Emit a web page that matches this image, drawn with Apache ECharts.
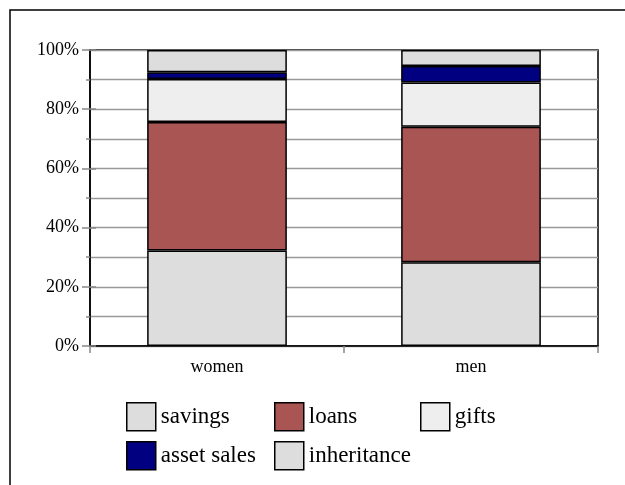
<!DOCTYPE html>
<html>
<head>
<meta charset="utf-8">
<script src="https://cdn.jsdelivr.net/npm/echarts@6/dist/echarts.min.js"></script>
<style>
  html, body { margin: 0; padding: 0; background: #fff; }
  #chart { width: 625px; height: 485px; }
</style>
</head>
<body>
<div id="chart"></div>
<script>
// Funding sources by group, as a share of the total (percent)
const groups = ['women', 'men'];
const savings = [32.3, 28.3];
const loans = [43.4, 45.8];
const gifts = [14.5, 14.9];
const assetSales = [2.3, 5.6];
const inheritance = [7.5, 5.4];
const yTickLabels = ['0%', '20%', '40%', '60%', '80%', '100%'];

const seriesDefs = [
  { name: 'savings', data: savings, color: '#dddddd' },
  { name: 'loans', data: loans, color: '#a85553' },
  { name: 'gifts', data: gifts, color: '#eeeeee' },
  { name: 'asset sales', data: assetSales, color: '#000080' },
  { name: 'inheritance', data: inheritance, color: '#dddddd' }
];

const FONT = '"Liberation Serif", "Times New Roman", serif';

// Legend placement: one legend block per item, laid out in a 3-column grid
const legendSlots = [
  { left: 126, top: 402 },
  { left: 274, top: 402 },
  { left: 420, top: 402 },
  { left: 126, top: 441 },
  { left: 274, top: 441 }
];

const chart = echarts.init(document.getElementById('chart'), null, { renderer: 'canvas' });

const option = {
  backgroundColor: '#ffffff',
  animation: false,
  graphic: [{
    type: 'rect',
    shape: { x: 10, y: 10, width: 700, height: 600 },
    style: { fill: 'none', stroke: '#000', lineWidth: 1.5 },
    silent: true,
    z: -1
  }],
  grid: {
    left: 90, top: 50, width: 508, height: 296,
    show: true, borderColor: '#000', borderWidth: 1.5, backgroundColor: 'transparent'
  },
  legend: seriesDefs.map((s, i) => ({
    data: [s.name],
    left: legendSlots[i].left,
    top: legendSlots[i].top,
    padding: 0,
    icon: 'rect',
    itemWidth: 29,
    itemHeight: 28,
    selectedMode: false,
    itemStyle: { borderColor: '#000', borderWidth: 1.5 },
    textStyle: { fontFamily: FONT, fontSize: 23, color: '#000' }
  })),
  xAxis: {
    type: 'category',
    data: groups,
    boundaryGap: true,
    axisLine: { lineStyle: { color: '#000', width: 1.5 } },
    axisTick: { show: true, length: 7, lineStyle: { color: '#888', width: 1.5 } },
    axisLabel: { fontFamily: FONT, fontSize: 18, color: '#000', margin: 12 },
    splitLine: { show: false }
  },
  yAxis: [{
    type: 'value',
    min: 0, max: 100, interval: 10,
    axisLine: { show: true, lineStyle: { color: '#000', width: 1.5 } },
    axisTick: { show: true, length: 4, lineStyle: { color: '#888', width: 1.5 } },
    axisLabel: {
      fontFamily: FONT, fontSize: 18, color: '#000', margin: 11,
      formatter: v => (v % 20 === 0 ? yTickLabels[v / 20] : '')
    },
    splitLine: { show: true, lineStyle: { color: '#999', width: 1.3 } }
  }, {
    // longer major ticks every 20%
    type: 'value', position: 'left',
    min: 0, max: 100, interval: 20,
    axisLine: { show: false },
    axisTick: { show: true, length: 8, lineStyle: { color: '#888', width: 1.5 } },
    axisLabel: { show: false },
    splitLine: { show: false }
  }, {
    // inner part of the major ticks
    type: 'value', position: 'left',
    min: 0, max: 100, interval: 20,
    axisLine: { show: false },
    axisTick: { show: true, inside: true, length: 6, lineStyle: { color: '#888', width: 1.5 } },
    axisLabel: { show: false },
    splitLine: { show: false }
  }],
  series: seriesDefs.map(s => ({
    name: s.name,
    type: 'bar',
    stack: 'total',
    data: s.data,
    barWidth: '55%',
    itemStyle: { color: s.color, borderColor: '#000', borderWidth: 1.5 },
    emphasis: { disabled: true }
  }))
};

chart.setOption(option);
</script>
</body>
</html>
